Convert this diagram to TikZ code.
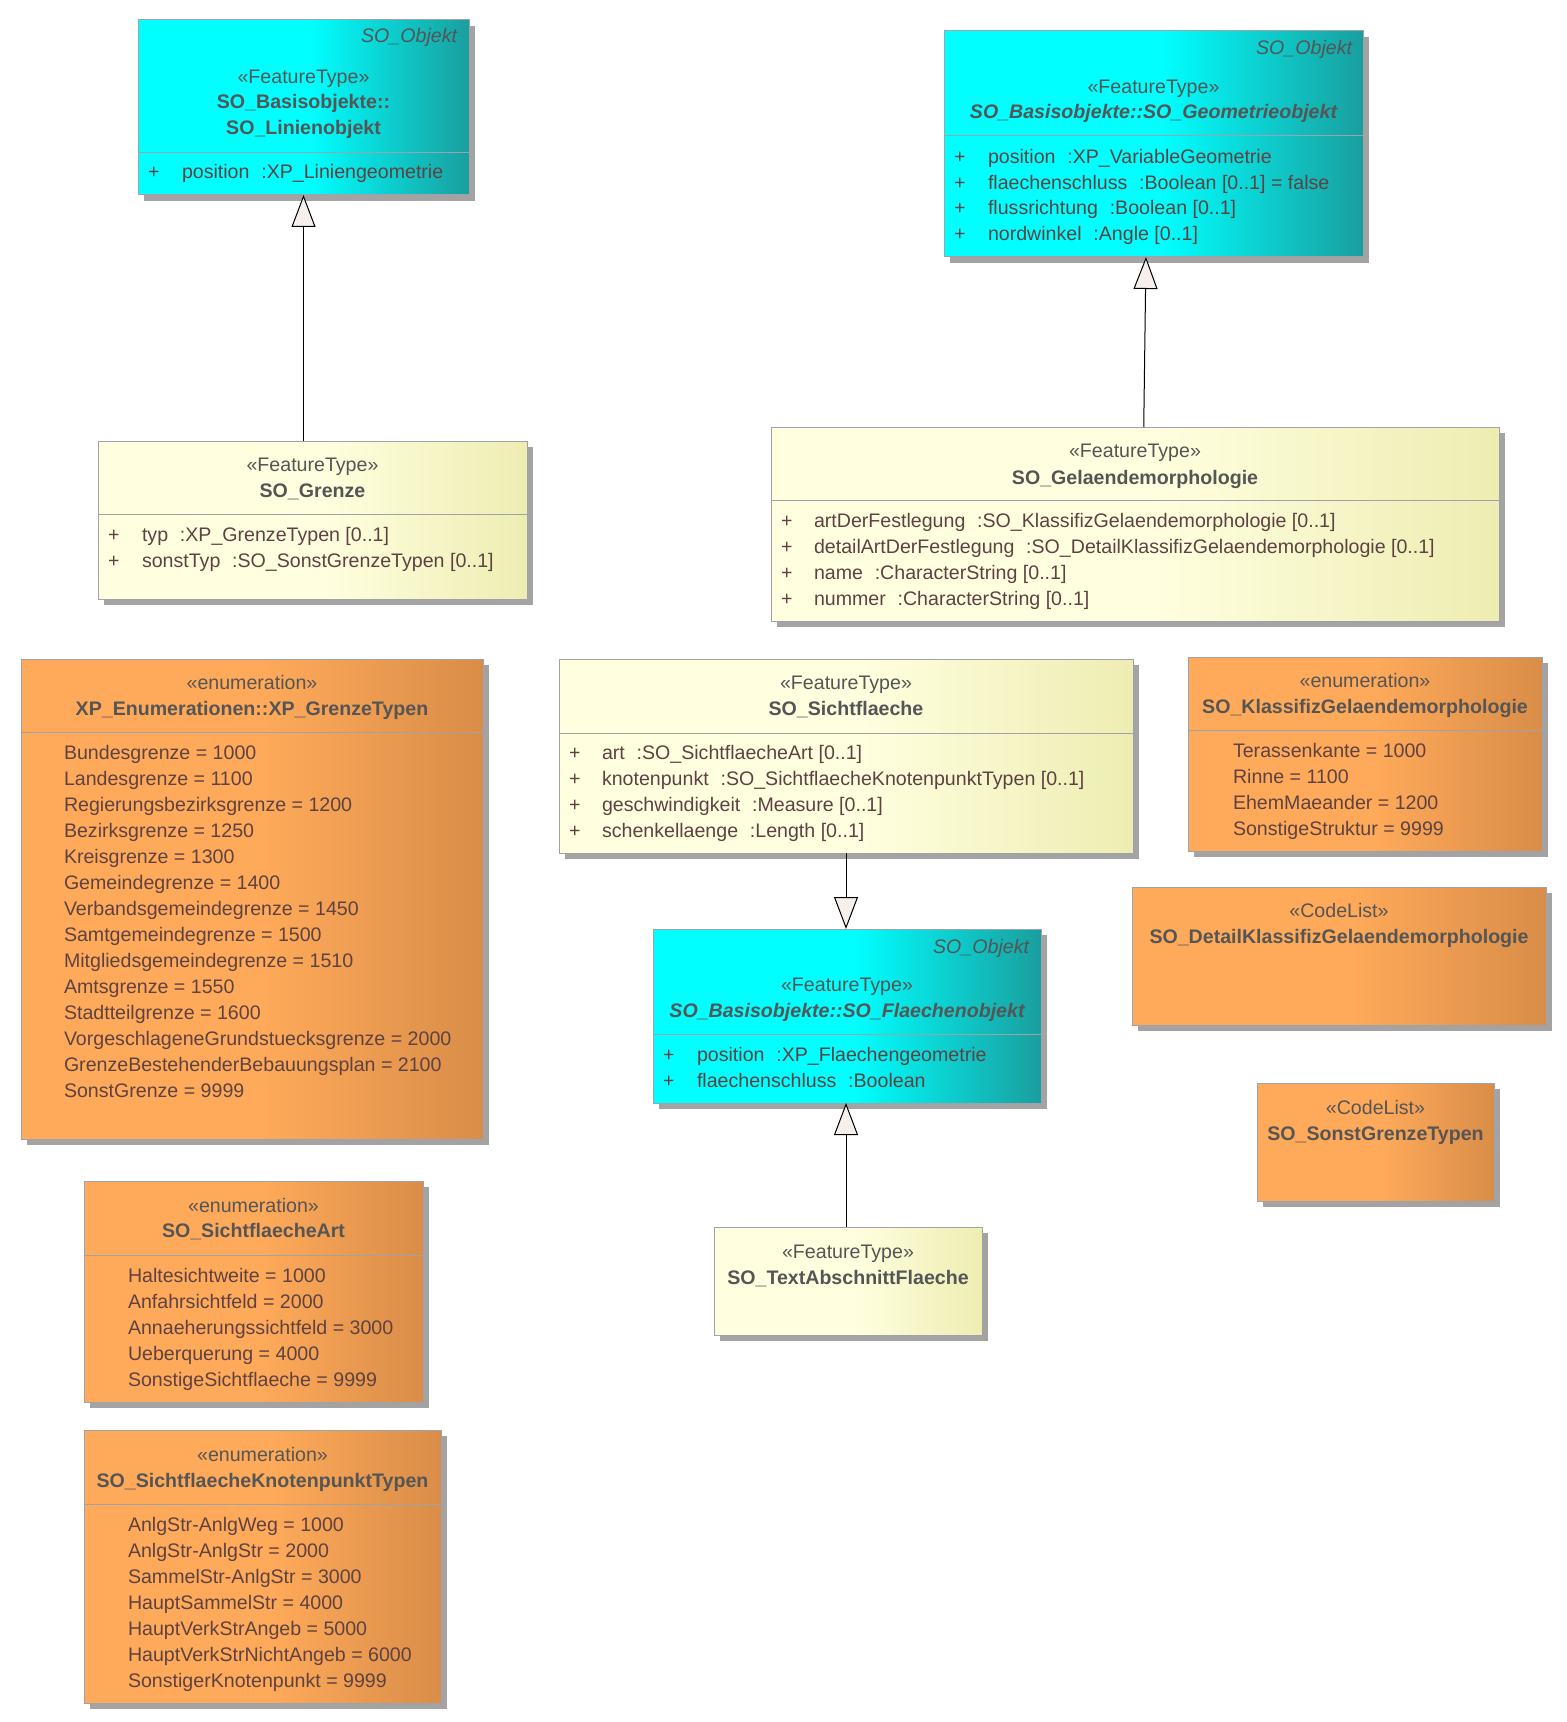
\documentclass[tikz,border=0pt]{standalone}
\usepackage{fontspec}
\setmainfont{Liberation Sans}
\usetikzlibrary{calc,fit,backgrounds,arrows.meta}
\definecolor{cyL}{HTML}{00FFFF}
\definecolor{cyR}{HTML}{1A9E9E}
\definecolor{yeL}{HTML}{FFFFE0}
\definecolor{yeR}{HTML}{EDEDB2}
\definecolor{orL}{HTML}{FFAA5A}
\definecolor{orR}{HTML}{D98D48}
\definecolor{bordc}{HTML}{9EA2AA}
\definecolor{shadc}{HTML}{A3A3A3}
\definecolor{hdrc}{HTML}{555555}
\definecolor{attc}{HTML}{5E4242}
\definecolor{arrf}{HTML}{F6EFEC}
\newcommand\fs{\fontsize{14.7pt}{19.5pt}\selectfont}
\newcommand\gp{\hspace{0.6em}}
\tikzset{
  umlbox/.style={draw=bordc, line width=0.75pt, inner sep=0pt, outer sep=0pt,
    path picture={
      \fill[#1L] (path picture bounding box.south west) rectangle (path picture bounding box.north east);
      \shade[left color=#1L, right color=#1R] ($(path picture bounding box.south west)!0.52!(path picture bounding box.south east)$) rectangle (path picture bounding box.north east);
    }},
  hd/.style={inner sep=0pt, outer sep=0pt, anchor=base, text=hdrc, font=\fs},
  hdb/.style={hd, font=\fs\bfseries},
  hdbi/.style={hd, font=\fs\bfseries\itshape},
  obj/.style={inner sep=0pt, outer sep=0pt, anchor=base east, text=hdrc, font=\fs\itshape},
  att/.style={inner sep=0pt, outer sep=0pt, anchor=base west, text=attc, font=\fs},
  sepl/.style={draw=bordc, line width=0.75pt},
  gen/.style={draw=black, line width=0.75pt, -{Triangle[length=24pt,width=18pt,fill=arrf]}},
}
\begin{document}
\begin{tikzpicture}[x=0.75pt,y=-0.75pt]
\useasboundingbox (0,0) rectangle (1566,1722);

% ---------- boxes ----------
\node[umlbox=cy, fit={(138,20)(469,195)}] (lin) {};
\node[umlbox=cy, fit={(944,31)(1363,257)}] (geo) {};
\node[umlbox=ye, fit={(98,441)(527,599)}] (gren) {};
\node[umlbox=ye, fit={(771,427)(1499,621)}] (gel) {};
\node[umlbox=ye, fit={(559,659)(1133,853)}] (sicht) {};
\node[umlbox=cy, fit={(653,929)(1041,1103)}] (fla) {};
\node[umlbox=ye, fit={(714,1227)(982,1335)}] (txt) {};
\node[umlbox=or, fit={(21,659)(483,1139)}] (xpg) {};
\node[umlbox=or, fit={(84,1181)(423,1402)}] (sart) {};
\node[umlbox=or, fit={(84,1430)(441,1703)}] (knot) {};
\node[umlbox=or, fit={(1188,657)(1542,851)}] (kla) {};
\node[umlbox=or, fit={(1132,887)(1546,1025)}] (det) {};
\node[umlbox=or, fit={(1257,1083)(1494,1201)}] (son) {};

% ---------- SO_Linienobjekt ----------
\node[obj] (lin-o) at (457,43) {SO\_Objekt};
\node[hd] (lin-s) at (lin.north |- 0,84) {«FeatureType»};
\node[hdb] (lin-n1) at (lin.north |- 0,109) {SO\_Basisobjekte::};
\node[hdb] (lin-n2) at (lin.north |- 0,135) {SO\_Linienobjekt};
\draw[sepl] (lin.west |- 0,153) -- (lin.east |- 0,153);
\node[att] (lin-p0) at (148,179) {+};
\node[att] (lin-a0) at (182,179) {position\gp:XP\_Liniengeometrie};

% ---------- SO_Geometrieobjekt ----------
\node[obj] (geo-o) at (1352,55) {SO\_Objekt};
\node[hd] (geo-s) at (geo.north |- 0,94) {«FeatureType»};
\node[hdbi] (geo-n) at (geo.north |- 0,119) {SO\_Basisobjekte::SO\_Geometrieobjekt};
\draw[sepl] (geo.west |- 0,136) -- (geo.east |- 0,136);
\foreach \t [count=\i from 0] in {position\gp:XP\_VariableGeometrie, flaechenschluss\gp:Boolean [0..1] = false, flussrichtung\gp:Boolean [0..1], nordwinkel\gp:Angle [0..1]}{
  \node[att] (geo-p\i) at (954,{164+25.5*\i}) {+};
  \node[att] (geo-a\i) at (988,{164+25.5*\i}) {\t};
}

% ---------- SO_Grenze ----------
\node[hd] (gren-s) at (gren.north |- 0,471) {«FeatureType»};
\node[hdb] (gren-n) at (gren.north |- 0,497) {SO\_Grenze};
\draw[sepl] (gren.west |- 0,514) -- (gren.east |- 0,514);
\foreach \t [count=\i from 0] in {typ\gp:XP\_GrenzeTypen [0..1], sonstTyp\gp:SO\_SonstGrenzeTypen [0..1]}{
  \node[att] (gren-p\i) at (108,{541+26*\i}) {+};
  \node[att] (gren-a\i) at (142,{541+26*\i}) {\t};
}

% ---------- SO_Gelaendemorphologie ----------
\node[hd] (gel-s) at (gel.north |- 0,457) {«FeatureType»};
\node[hdb] (gel-n) at (gel.north |- 0,484) {SO\_Gelaendemorphologie};
\draw[sepl] (gel.west |- 0,500) -- (gel.east |- 0,500);
\foreach \t [count=\i from 0] in {artDerFestlegung\gp:SO\_KlassifizGelaendemorphologie [0..1], detailArtDerFestlegung\gp:SO\_DetailKlassifizGelaendemorphologie [0..1], name\gp:CharacterString [0..1], nummer\gp:CharacterString [0..1]}{
  \node[att] (gel-p\i) at (781,{527+26*\i}) {+};
  \node[att] (gel-a\i) at (814,{527+26*\i}) {\t};
}

% ---------- SO_Sichtflaeche ----------
\node[hd] (sicht-s) at (sicht.north |- 0,689) {«FeatureType»};
\node[hdb] (sicht-n) at (sicht.north |- 0,715) {SO\_Sichtflaeche};
\draw[sepl] (sicht.west |- 0,733) -- (sicht.east |- 0,733);
\foreach \t [count=\i from 0] in {art\gp:SO\_SichtflaecheArt [0..1], knotenpunkt\gp:SO\_SichtflaecheKnotenpunktTypen [0..1], geschwindigkeit\gp:Measure [0..1], schenkellaenge\gp:Length [0..1]}{
  \node[att] (sicht-p\i) at (569,{759+26*\i}) {+};
  \node[att] (sicht-a\i) at (602,{759+26*\i}) {\t};
}

% ---------- SO_Flaechenobjekt ----------
\node[obj] (fla-o) at (1029,953) {SO\_Objekt};
\node[hd] (fla-s) at (fla.north |- 0,991) {«FeatureType»};
\node[hdbi] (fla-n) at (fla.north |- 0,1017) {SO\_Basisobjekte::SO\_Flaechenobjekt};
\draw[sepl] (fla.west |- 0,1034) -- (fla.east |- 0,1034);
\foreach \t [count=\i from 0] in {position\gp:XP\_Flaechengeometrie, flaechenschluss\gp:Boolean}{
  \node[att] (fla-p\i) at (663,{1061+26*\i}) {+};
  \node[att] (fla-a\i) at (697,{1061+26*\i}) {\t};
}

% ---------- SO_TextAbschnittFlaeche ----------
\node[hd] (txt-s) at (txt.north |- 0,1258) {«FeatureType»};
\node[hdb] (txt-n) at (txt.north |- 0,1284) {SO\_TextAbschnittFlaeche};

% ---------- XP_GrenzeTypen ----------
\node[hd] (xpg-s) at (xpg.north |- 0,689) {«enumeration»};
\node[hdb] (xpg-n) at (xpg.north |- 0,715) {XP\_Enumerationen::XP\_GrenzeTypen};
\draw[sepl] (xpg.west |- 0,732) -- (xpg.east |- 0,732);
\foreach \t [count=\i from 0] in {Bundesgrenze = 1000, Landesgrenze = 1100, Regierungsbezirksgrenze = 1200, Bezirksgrenze = 1250, Kreisgrenze = 1300, Gemeindegrenze = 1400, Verbandsgemeindegrenze = 1450, Samtgemeindegrenze = 1500, Mitgliedsgemeindegrenze = 1510, Amtsgrenze = 1550, Stadtteilgrenze = 1600, VorgeschlageneGrundstuecksgrenze = 2000, GrenzeBestehenderBebauungsplan = 2100, SonstGrenze = 9999}{
  \node[att] (xpg-l\i) at (64,{759+26*\i}) {\t};
}

% ---------- SO_SichtflaecheArt ----------
\node[hd] (sart-s) at (sart.north |- 0,1212) {«enumeration»};
\node[hdb] (sart-n) at (sart.north |- 0,1237) {SO\_SichtflaecheArt};
\draw[sepl] (sart.west |- 0,1255) -- (sart.east |- 0,1255);
\foreach \t [count=\i from 0] in {Haltesichtweite = 1000, Anfahrsichtfeld = 2000, Annaeherungssichtfeld = 3000, Ueberquerung = 4000, SonstigeSichtflaeche = 9999}{
  \node[att] (sart-l\i) at (128,{1282+26*\i}) {\t};
}

% ---------- SO_SichtflaecheKnotenpunktTypen ----------
\node[hd] (knot-s) at (knot.north |- 0,1461) {«enumeration»};
\node[hdb] (knot-n) at (knot.north |- 0,1487) {SO\_SichtflaecheKnotenpunktTypen};
\draw[sepl] (knot.west |- 0,1504) -- (knot.east |- 0,1504);
\foreach \t [count=\i from 0] in {AnlgStr-AnlgWeg = 1000, AnlgStr-AnlgStr = 2000, SammelStr-AnlgStr = 3000, HauptSammelStr = 4000, HauptVerkStrAngeb = 5000, HauptVerkStrNichtAngeb = 6000, SonstigerKnotenpunkt = 9999}{
  \node[att] (knot-l\i) at (128,{1531+26*\i}) {\t};
}

% ---------- SO_KlassifizGelaendemorphologie ----------
\node[hd] (kla-s) at (kla.north |- 0,687) {«enumeration»};
\node[hdb] (kla-n) at (kla.north |- 0,713) {SO\_KlassifizGelaendemorphologie};
\draw[sepl] (kla.west |- 0,730) -- (kla.east |- 0,730);
\foreach \t [count=\i from 0] in {Terassenkante = 1000, Rinne = 1100, EhemMaeander = 1200, SonstigeStruktur = 9999}{
  \node[att] (kla-l\i) at (1233,{757+26*\i}) {\t};
}

% ---------- CodeLists ----------
\node[hd] (det-s) at (det.north |- 0,917) {«CodeList»};
\node[hdb] (det-n) at (det.north |- 0,943) {SO\_DetailKlassifizGelaendemorphologie};
\node[hd] (son-s) at (son.north |- 0,1114) {«CodeList»};
\node[hdb] (son-n) at (son.north |- 0,1140) {SO\_SonstGrenzeTypen};

% ---------- generalizations ----------
\draw[gen] (gren.north -| lin.south) -- (lin.south);
\draw[gen] ($(gel.north west)!0.512!(gel.north east)$) -- ($(geo.south west)!0.482!(geo.south east)$);
\draw[gen] (sicht.south) -- (sicht.south |- fla.north);
\draw[gen] (txt.north -| sicht.south) -- (sicht.south |- fla.south);

% ---------- background and shadows ----------
\begin{scope}[on background layer]
\fill[white] (0,0) rectangle (1566,1722);
\foreach \n in {lin,geo,gren,gel,sicht,fla,txt,xpg,sart,knot,kla,det,son}{
  \fill[shadc] ([shift={(6,6)}]\n.north west) rectangle ([shift={(6,6)}]\n.south east);
}
\end{scope}
\end{tikzpicture}
\end{document}
